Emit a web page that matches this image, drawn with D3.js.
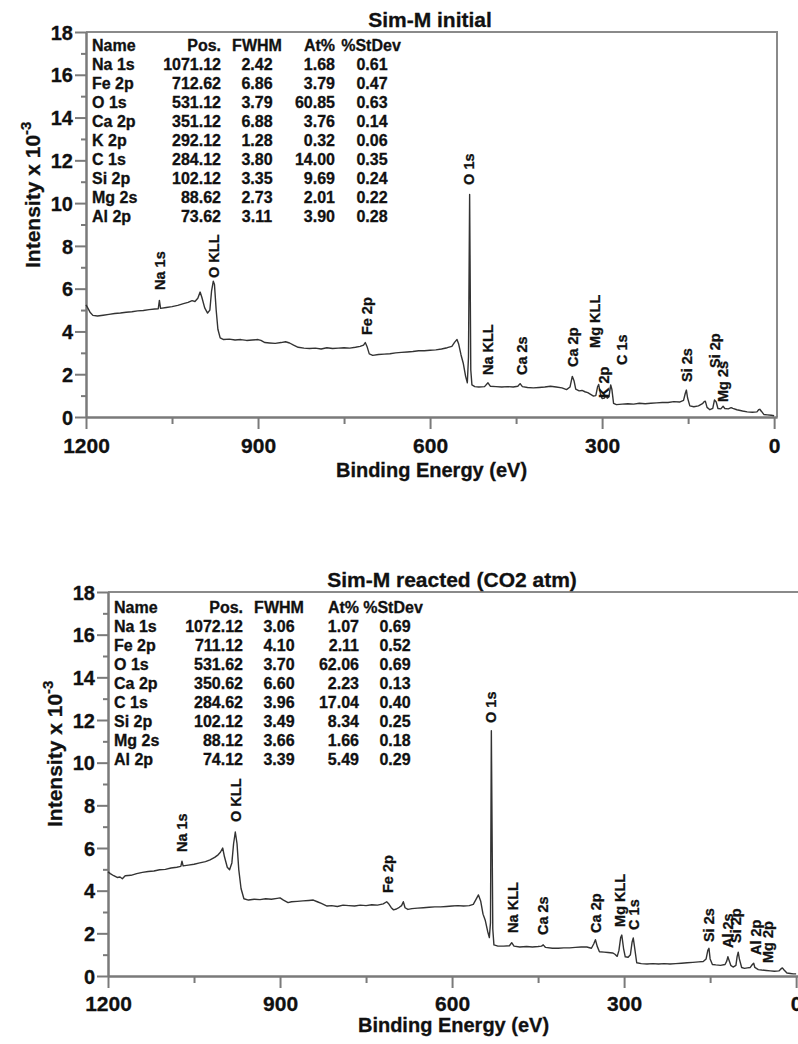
<!DOCTYPE html>
<html><head><meta charset="utf-8">
<script src="https://cdn.jsdelivr.net/npm/d3@7/dist/d3.min.js"></script>
<style>
body{margin:0;background:#fff}
svg{display:block}
text{font-family:"Liberation Sans",Arial,sans-serif;font-weight:bold;fill:#111;stroke:#111;stroke-width:0.3px}
</style>
</head><body>
<svg id="chart" width="798" height="1044"></svg>
<script>
// ---------- DATA ----------
const tableHeader = ["Name", "Pos.", "FWHM", "At%", "%StDev"];

const topTableNames = ["Na 1s","Fe 2p","O 1s","Ca 2p","K 2p","C 1s","Si 2p","Mg 2s","Al 2p"];
const topTablePos   = ["1071.12","712.62","531.12","351.12","292.12","284.12","102.12","88.62","73.62"];
const topTableFWHM  = ["2.42","6.86","3.79","6.88","1.28","3.80","3.35","2.73","3.11"];
const topTableAt    = ["1.68","3.79","60.85","3.76","0.32","14.00","9.69","2.01","3.90"];
const topTableStDev = ["0.61","0.47","0.63","0.14","0.06","0.35","0.24","0.22","0.28"];

const botTableNames = ["Na 1s","Fe 2p","O 1s","Ca 2p","C 1s","Si 2p","Mg 2s","Al 2p"];
const botTablePos   = ["1072.12","711.12","531.62","350.62","284.62","102.12","88.12","74.12"];
const botTableFWHM  = ["3.06","4.10","3.70","6.60","3.96","3.49","3.66","3.39"];
const botTableAt    = ["1.07","2.11","62.06","2.23","17.04","8.34","1.66","5.49"];
const botTableStDev = ["0.69","0.52","0.69","0.13","0.40","0.25","0.18","0.29"];

const xMajorTicks = [1200, 900, 600, 300, 0];
const xMinorTicks = [1050, 750, 450, 150];
const yMajorTicks = [0, 2, 4, 6, 8, 10, 12, 14, 16, 18];
const yMinorTicks = [1, 3, 5, 7, 9, 11, 13, 15, 17];

// Survey spectrum, initial sample: binding energy (eV) / intensity (x10^-3)
const topEnergy = [1200,1197,1193,1188,1180,1170,1160,1150,1140,1130,1120,1110,1100,1090,1080,1074,1072,1070,1060,1050,1040,1030,1022,1015,1010,1005,1001,998,993,988,984,981,978,976,973,970,966,960,950,940,930,920,910,900,895,888,880,870,860,852,845,838,830,820,810,800,790,780,770,760,750,740,730,722,716,713,710,706,700,690,680,670,660,650,640,630,620,610,600,590,580,570,562,557,553,550,546,542,538,535,533,531,529,527,522,515,505,499,495,485,475,465,455,447,443,439,430,420,410,400,390,380,370,362,356,352,349,346,340,335,330,325,320,315,311,308,306,303,300,296,293,291,288,285,283,280,275,265,255,245,235,225,215,205,195,185,175,165,158,155,153,151,147,140,132,125,122,120,117,112,107,104,101,98,93,89,86,80,75,72,65,55,47,38,30,27,25,22,18,12,5,0];
const topIntensity = [5.24,5.10,4.90,4.75,4.72,4.76,4.80,4.84,4.86,4.90,4.92,4.96,4.98,5.02,5.05,5.06,5.45,5.08,5.12,5.16,5.22,5.30,5.36,5.44,5.40,5.55,5.84,5.60,5.10,4.86,5.00,5.90,6.35,6.20,5.00,4.10,3.70,3.62,3.64,3.60,3.62,3.58,3.60,3.62,3.58,3.48,3.46,3.44,3.48,3.52,3.46,3.36,3.26,3.22,3.20,3.22,3.18,3.24,3.20,3.22,3.24,3.22,3.26,3.30,3.36,3.48,3.30,2.95,2.88,2.92,2.94,2.96,3.00,3.02,3.04,3.06,3.10,3.10,3.12,3.14,3.18,3.24,3.30,3.50,3.62,3.40,2.90,2.50,1.90,1.60,2.80,10.40,2.20,1.50,1.42,1.40,1.42,1.60,1.44,1.42,1.40,1.42,1.40,1.44,1.56,1.42,1.38,1.36,1.38,1.40,1.44,1.40,1.36,1.28,1.40,1.90,1.70,1.30,1.22,1.24,1.18,1.14,1.06,0.98,1.00,1.40,1.52,1.10,0.86,0.88,1.00,0.88,0.95,1.50,1.30,0.64,0.58,0.60,0.62,0.60,0.64,0.62,0.64,0.66,0.68,0.68,0.72,0.70,0.78,1.10,1.26,0.90,0.52,0.48,0.52,0.62,0.72,0.74,0.45,0.34,0.40,0.80,0.70,0.40,0.38,0.50,0.40,0.38,0.44,0.40,0.34,0.28,0.24,0.22,0.24,0.34,0.36,0.26,0.12,0.10,0.08,0.06];

// Survey spectrum, reacted sample (CO2 atm)
const botEnergy = [1200,1196,1190,1184,1179,1175,1170,1160,1150,1140,1130,1120,1110,1100,1090,1080,1073,1071,1069,1060,1050,1040,1030,1022,1014,1008,1004,1000,997,992,988,984,981,978,975,972,968,963,955,945,935,925,915,905,900,894,886,880,870,860,850,842,835,828,818,810,800,790,780,770,760,750,740,730,720,714,711,706,702,697,692,688,685,682,677,670,660,650,640,630,620,610,600,590,580,570,563,558,554,550,546,542,538,535,533,531.5,529,527,520,510,500,496,492,482,470,460,450,444,441,437,425,415,405,395,385,375,365,357,353,350,347,343,335,328,320,316,312,309,306,304,301,298,293,289,286,284,282,278,270,260,250,240,230,220,210,200,190,180,170,162,157,154,152,150,146,140,132,124,121,119,117,114,110,105,103,101,99,95,90,85,80,76,74,72,66,60,52,45,38,30,27,24,21,16,10,5,0];
const botIntensity = [4.88,4.80,4.70,4.62,4.64,4.56,4.70,4.72,4.80,4.86,4.90,4.92,4.98,5.00,5.06,5.10,5.14,5.38,5.16,5.20,5.24,5.30,5.36,5.44,5.56,5.68,5.80,6.00,5.60,5.10,4.98,5.30,6.20,6.75,6.20,5.00,4.10,3.62,3.56,3.60,3.58,3.62,3.60,3.64,3.66,3.56,3.44,3.48,3.50,3.52,3.54,3.56,3.48,3.40,3.28,3.30,3.26,3.32,3.30,3.28,3.32,3.30,3.34,3.32,3.38,3.48,3.40,3.20,3.10,3.14,3.22,3.30,3.48,3.20,3.12,3.16,3.18,3.20,3.22,3.24,3.24,3.26,3.28,3.30,3.28,3.30,3.36,3.60,3.80,3.50,2.90,2.60,2.10,1.80,2.50,11.50,2.20,1.46,1.40,1.40,1.42,1.56,1.40,1.36,1.38,1.36,1.38,1.40,1.46,1.34,1.30,1.30,1.32,1.32,1.34,1.36,1.36,1.30,1.50,1.70,1.40,1.14,1.12,1.10,1.08,1.02,0.92,1.20,1.80,1.92,1.30,0.90,0.88,1.00,1.60,1.78,1.40,0.62,0.58,0.56,0.58,0.56,0.58,0.56,0.58,0.60,0.62,0.64,0.66,0.68,0.80,1.20,1.30,0.80,0.54,0.52,0.50,0.54,0.70,0.90,0.74,0.50,0.42,0.50,0.90,1.12,0.80,0.40,0.36,0.38,0.40,0.55,0.60,0.40,0.30,0.28,0.26,0.24,0.22,0.24,0.32,0.38,0.28,0.14,0.12,0.10,0.10];

// Peak annotations: label, binding energy, intensity where label starts
const topPeakLabels = ["Na 1s","O KLL","Fe 2p","O 1s","Na KLL","Ca 2s","Ca 2p","Mg KLL","K 2p","C 1s","Si 2s","Si 2p","Mg 2s"];
const topPeakEnergy = [1071, 978, 710, 533, 499, 440, 351, 312, 297, 265, 153, 103, 89];
const topPeakLevel  = [5.94, 6.50, 3.83, 10.85, 1.96, 1.96, 2.34, 3.23, 0.89, 2.43, 1.64, 2.29, 0.70];

const botPeakLabels = ["Na 1s","O KLL","Fe 2p","O 1s","Na KLL","Ca 2s","Ca 2p","Mg KLL","C 1s","Si 2s","Al 2s","Si 2p","Al 2p","Mg 2p"];
const botPeakEnergy = [1071, 978, 712, 532, 495, 441, 350, 307, 284, 153, 120, 106, 71, 49];
const botPeakLevel  = [5.81, 7.22, 3.89, 11.86, 2.02, 1.92, 2.02, 2.30, 2.16, 1.59, 1.31, 1.55, 0.98, 0.61];

// ---------- DRAW ----------
const svg = d3.select("#chart");
const AX = "#7a7a7a";

function drawPanel(p) {
  const g = svg.append("g");
  const x = d3.scaleLinear().domain([1200, -5]).range([p.left, p.right]);
  const y = d3.scaleLinear().domain([0, 18]).range([p.bottom, p.top]);

  // frame (top & right)
  g.append("path")
    .attr("d", `M${p.left},${p.top}H${p.right}V${p.bottom}`)
    .attr("fill", "none").attr("stroke", "#8a8a8a").attr("stroke-width", 2);

  // y axis
  const yMinor = g.append("g").attr("transform", `translate(${p.left},0)`)
    .call(d3.axisLeft(y).tickValues(yMinorTicks).tickSize(5).tickSizeOuter(0).tickFormat(""));
  const yMaj = g.append("g").attr("transform", `translate(${p.left},0)`)
    .call(d3.axisLeft(y).tickValues(yMajorTicks).tickSize(11).tickSizeOuter(0).tickPadding(2));
  yMaj.selectAll("text").style("font-size", "20px").attr("dy", "0.36em");

  // x axis
  const xMinor = g.append("g").attr("transform", `translate(0,${p.bottom})`)
    .call(d3.axisBottom(x).tickValues(xMinorTicks).tickSize(7).tickSizeOuter(0).tickFormat(""));
  const xMaj = g.append("g").attr("transform", `translate(0,${p.bottom})`)
    .call(d3.axisBottom(x).tickValues(xMajorTicks).tickFormat(d3.format("d"))
      .tickSize(12).tickSizeOuter(0).tickPadding(p.xPad));
  xMaj.selectAll("text").style("font-size", "21px");

  [yMinor, yMaj, xMinor, xMaj].forEach(a => {
    a.selectAll(".domain").attr("stroke", AX).attr("stroke-width", 2);
    a.selectAll(".tick line").attr("stroke", AX).attr("stroke-width", 2);
    a.selectAll(".tick text").attr("fill", "#111")
      .style("font-family", '"Liberation Sans",Arial,sans-serif').style("font-weight", "bold");
  });

  // spectrum
  const pts = p.energy.map((e, i) => [e, p.intensity[i]]);
  g.append("path").datum(pts)
    .attr("fill", "none").attr("stroke", "#333").attr("stroke-width", 1.4)
    .attr("stroke-linejoin", "round")
    .attr("d", d3.line().x(d => x(d[0])).y(d => y(d[1])));

  // peak labels
  p.peakLabels.forEach((lab, i) => {
    g.append("text")
      .attr("transform", `translate(${x(p.peakEnergy[i])},${y(p.peakLevel[i])}) rotate(-90)`)
      .attr("dy", "0.36em")
      .style("font-size", "14.5px")
      .text(lab);
  });

  // title
  g.append("text").attr("x", p.titleX).attr("y", p.top - 5)
    .attr("text-anchor", "middle").style("font-size", "21px").text(p.title);

  // axis titles
  g.append("text").attr("x", (p.left + p.right) / 2).attr("y", p.bottom + p.xTitleOff)
    .attr("text-anchor", "middle").style("font-size", "20px").text("Binding Energy (eV)");
  const yl = g.append("text")
    .attr("transform", `translate(${p.left - 46},${p.bottom - 149}) rotate(-90)`)
    .style("font-size", "21px");
  yl.append("tspan").text("Intensity x 10");
  yl.append("tspan").attr("dy", -9).style("font-size", "15px").text("-3");

  // results table
  const cols = [
    {dx: 6, anchor: "start"},
    {dx: 135, anchor: "end"},
    {dx: 171, anchor: "middle"},
    {dx: 249, anchor: "end"},
    {dx: 285, anchor: "middle"}
  ];
  const rows = [tableHeader].concat(p.tNames.map((n, i) => [n, p.tPos[i], p.tFWHM[i], p.tAt[i], p.tStDev[i]]));
  rows.forEach((r, ri) => {
    r.forEach((v, ci) => {
      g.append("text")
        .attr("x", p.left + cols[ci].dx + (ci === 3 ? p.atShift : 0) + (ci === 4 && ri > 0 ? p.sdShift : 0))
        .attr("y", p.top + p.tableTop + ri * 19)
        .attr("text-anchor", cols[ci].anchor)
        .style("font-size", "16px")
        .text(v);
    });
  });
}

drawPanel({
  left: 86, right: 777, top: 32, bottom: 417, titleX: 430, xPad: 9,
  title: "Sim-M initial", xTitleOff: 60, tableTop: 19, atShift: 0, sdShift: 1,
  energy: topEnergy, intensity: topIntensity,
  peakLabels: topPeakLabels, peakEnergy: topPeakEnergy, peakLevel: topPeakLevel,
  tNames: topTableNames, tPos: topTablePos, tFWHM: topTableFWHM, tAt: topTableAt, tStDev: topTableStDev
});
drawPanel({
  left: 108, right: 799, top: 592, bottom: 976, titleX: 452, xPad: 8,
  title: "Sim-M reacted (CO2 atm)", xTitleOff: 56, tableTop: 21, atShift: 2, sdShift: 2,
  energy: botEnergy, intensity: botIntensity,
  peakLabels: botPeakLabels, peakEnergy: botPeakEnergy, peakLevel: botPeakLevel,
  tNames: botTableNames, tPos: botTablePos, tFWHM: botTableFWHM, tAt: botTableAt, tStDev: botTableStDev
});
</script>
</body></html>
